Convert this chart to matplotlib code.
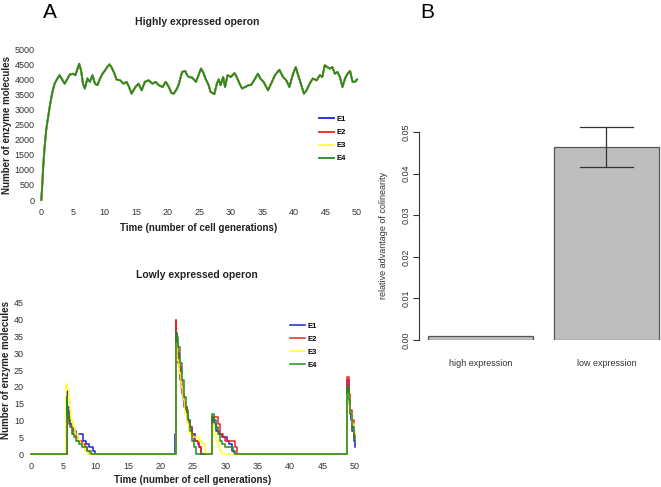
import matplotlib
matplotlib.use("Agg")
from matplotlib import pyplot as plt

plt.rcParams['font.family'] = ['Liberation Sans', 'DejaVu Sans']

W, H = 661, 487

# --- panel A, top: highly expressed operon (E1..E4 overlap almost exactly)
high_t = [0, 0.15, 0.3, 0.5, 0.8, 1.33, 1.7, 2.1, 2.55, 2.9, 3.3, 3.7, 4.0, 4.5, 5.05,
          5.4, 5.75, 6.0, 6.3, 6.6, 6.9, 7.3, 7.7, 8.1, 8.5, 8.9, 9.3, 9.7, 10.1, 10.5,
          10.8, 11.1, 11.6, 11.9, 12.5, 13.0, 13.5, 13.9, 14.3, 14.9, 15.4, 15.9, 16.4,
          17.0, 17.6, 18.1, 18.6, 19.2, 19.7, 20.2, 20.6, 21.0, 21.5, 21.8, 22.3, 22.8,
          23.1, 23.4, 23.9, 24.5, 24.9, 25.3, 25.6, 26.0, 26.5, 26.8, 27.4, 27.8, 28.1,
          28.4, 28.8, 29.1, 29.5, 30.0, 30.6, 30.9, 31.4, 31.8, 32.3, 32.8, 33.2, 33.7,
          34.3, 34.7, 35.2, 35.9, 36.4, 37.0, 37.7, 38.3, 38.8, 39.3, 39.8, 40.3, 40.6,
          41.1, 41.6, 42.0, 42.5, 43.0, 43.6, 44.1, 44.5, 44.9, 45.3, 45.7, 46.1, 46.5,
          46.9, 47.3, 47.7, 48.1, 48.5, 48.9, 49.3, 49.7, 50.0]
high_v = [0, 500, 1100, 1700, 2370, 3090, 3530, 3860, 4030, 4140, 4000, 3860, 3970, 4160, 4190,
          4140, 4360, 4520, 4300, 3860, 3700, 4030, 3920, 4140, 3860, 3810, 4030, 4190, 4300, 4430,
          4500, 4410, 4190, 4000, 3970, 3860, 3920, 3750, 3530, 3750, 3860, 3640, 3920,
          3970, 3860, 3920, 3810, 3750, 3920, 3750, 3550, 3530, 3700, 3860, 4250, 4280,
          4140, 4080, 4060, 3920, 4140, 4360, 4250, 4030, 3810, 3590, 3510, 3860, 4000,
          3810, 4080, 3750, 4140, 4080, 4210, 4100, 3860, 3700, 3750, 3810, 3810, 3970,
          4190, 4030, 3920, 3640, 3860, 4140, 4320, 4080, 3970, 3750, 4140, 4410, 4190,
          3860, 3530, 3640, 3860, 4030, 3970, 4140, 4080, 4470, 4410, 4360, 4410, 4190,
          4250, 4080, 3750, 4030, 4190, 4280, 3920, 3920, 4000]

# --- panel A, bottom: lowly expressed operon (step trajectories)
e1_t = [0, 5.5, 5.6, 5.8, 6.0, 6.3, 6.6, 7.0, 7.5, 8.0, 8.5, 9.0, 9.5, 9.9, 22.2, 22.35, 22.5,
        22.8, 23.1, 23.4, 23.7, 24.0, 24.3, 24.6, 24.9, 25.3, 25.7, 26.0, 26.3, 28.0, 28.3,
        28.6, 29.0, 29.4, 29.8, 30.2, 30.6, 31.0, 31.3, 48.8, 49.0, 49.2, 49.4, 49.6, 49.8, 50]
e1_v = [0, 19, 14, 11, 9, 8, 7, 6, 6, 4, 3, 2, 1, 0, 6, 36, 30, 26, 20, 16, 14, 12, 10, 8, 6,
        4, 3, 2, 0, 11, 9, 7, 6, 5, 5, 4, 3, 1, 0, 22, 15, 12, 10, 7, 4, 2]
e2_t = [0, 5.5, 5.7, 5.9, 6.2, 6.5, 6.9, 7.3, 7.8, 8.3, 8.7, 9.0, 22.3, 22.45, 22.7, 23.0,
        23.3, 23.6, 24.0, 24.4, 24.8, 25.2, 25.6, 26.0, 26.2, 28.0, 28.4, 28.8, 29.2, 29.6,
        30.0, 30.5, 31.0, 31.5, 31.8, 48.8, 49.0, 49.2, 49.5, 49.8, 50]
e2_v = [0, 13, 11, 9, 8, 6, 5, 4, 3, 2, 1, 0, 40, 33, 27, 22, 18, 14, 10, 8, 6, 4, 4, 2, 0,
        11, 11, 9, 6, 5, 4, 4, 4, 2, 0, 23, 18, 13, 10, 6, 5]
e3_t = [0, 5.4, 5.6, 5.8, 6.0, 6.2, 6.5, 6.8, 7.2, 7.6, 8.0, 8.4, 8.8, 22.3, 22.5, 22.8, 23.1,
        23.4, 23.7, 24.0, 24.4, 24.8, 25.2, 25.6, 26.0, 26.4, 26.8, 27.0, 28.0, 28.3, 28.6,
        28.9, 29.2, 29.5, 48.8, 49.0, 49.2, 49.5, 49.8, 50]
e3_v = [0, 21, 19, 16, 13, 10, 8, 6, 4, 3, 2, 1, 0, 33, 28, 24, 20, 16, 12, 9, 6, 5, 5, 5, 4,
        3, 1, 0, 9, 6, 4, 2, 1, 0, 18, 15, 12, 9, 7, 6]
e4_t = [0, 5.5, 5.6, 5.8, 6.0, 6.3, 6.6, 7.0, 7.4, 7.8, 8.2, 8.6, 9.0, 9.2, 22.3, 22.5, 22.7,
        23.0, 23.3, 23.6, 23.9, 24.2, 24.5, 24.8, 25.1, 25.5, 28.0, 28.2, 28.5, 28.8, 29.1,
        29.5, 29.9, 30.3, 30.7, 31.1, 31.5, 48.8, 49.0, 49.2, 49.5, 49.8, 50]
e4_v = [0, 17, 12, 10, 8, 6, 5, 4, 3, 2, 2, 1, 1, 0, 36, 35, 32, 27, 22, 17, 13, 10, 7, 4, 2,
        0, 12, 10, 8, 6, 4, 3, 2, 2, 2, 1, 0, 20, 16, 12, 8, 5, 4]

# --- panel B: bar chart
bar_labels = ["high expression", "low expression"]
bar_values = [0.001, 0.0465]
bar_err_lo = [None, 0.0417]
bar_err_hi = [None, 0.0513]

enzymes = ["E1", "E2", "E3", "E4"]
colors = ["#2222dd", "#ee2222", "#ffff33", "#228b22"]


def px_axes(x0, x1, ytop, ybot):
    return [x0 / W, 1 - ybot / H, (x1 - x0) / W, (ybot - ytop) / H]


fig = plt.figure(figsize=(W / 100, H / 100), dpi=100)

tick_kw = dict(labelsize=6.5, labelcolor="#333333", length=0)


def style_line_axes(ax):
    for s in ax.spines.values():
        s.set_visible(False)
    ax.tick_params(axis="x", pad=6, **tick_kw)
    ax.tick_params(axis="y", pad=5, **tick_kw)


# top panel
ax1 = fig.add_axes(px_axes(41.3, 357, 49.3, 200))
for name, c in zip(enzymes, colors):
    ax1.plot(high_t, high_v, color=c, lw=1.3, label=name, clip_on=False)
ax1.set_xlim(0, 50)
ax1.set_ylim(0, 5000)
ax1.set_xticks(range(0, 51, 5))
ax1.set_yticks(range(0, 5001, 500))
style_line_axes(ax1)
fig.text(197 / W, 1 - 22 / H, "Highly expressed operon", ha="center", va="center",
         fontsize=7.5, fontweight="bold", color="#222222")
fig.text(199 / W, 1 - 228 / H, "Time (number of cell generations)", ha="center", va="center",
         fontsize=7, fontweight="bold", color="#222222")
fig.text(7 / W, 1 - 125 / H, "Number of enzyme molecules", ha="center", va="center",
         rotation=90, fontsize=7, fontweight="bold", color="#222222")
ax1.legend(loc="upper left", bbox_to_anchor=(315 / W, 1 - 112 / H),
           bbox_transform=fig.transFigure, frameon=False,
           handlelength=2.0, handletextpad=0.3, labelspacing=0.75, borderpad=0,
           prop={"weight": "bold", "size": 5.5})

# bottom panel
ax2 = fig.add_axes(px_axes(31, 355, 303, 454))
for name, c, t, v in zip(enzymes, colors, [e1_t, e2_t, e3_t, e4_t], [e1_v, e2_v, e3_v, e4_v]):
    ax2.step(t, v, where="post", color=c, lw=1.1, label=name, clip_on=False)
ax2.set_xlim(0, 50)
ax2.set_ylim(0, 45)
ax2.set_xticks(range(0, 51, 5))
ax2.set_yticks(range(0, 46, 5))
style_line_axes(ax2)
fig.text(197 / W, 1 - 275 / H, "Lowly expressed operon", ha="center", va="center",
         fontsize=7.5, fontweight="bold", color="#222222")
fig.text(193 / W, 1 - 480 / H, "Time (number of cell generations)", ha="center", va="center",
         fontsize=7, fontweight="bold", color="#222222")
fig.text(6 / W, 1 - 370 / H, "Number of enzyme molecules", ha="center", va="center",
         rotation=90, fontsize=7, fontweight="bold", color="#222222")
ax2.legend(loc="upper left", bbox_to_anchor=(286 / W, 1 - 318.5 / H),
           bbox_transform=fig.transFigure, frameon=False,
           handlelength=2.0, handletextpad=0.3, labelspacing=0.75, borderpad=0,
           prop={"weight": "bold", "size": 5.5})

# panel B
ytop_b = 340 - 0.054 * 4160
ax3 = fig.add_axes(px_axes(419, 661, ytop_b, 340))
pos = [0.7, 1.9]
ax3.bar(pos, bar_values, width=1.0, color="#bebebe", edgecolor="#555555", linewidth=0.9)
for x, lo, hi in zip(pos, bar_err_lo, bar_err_hi):
    if lo is None:
        continue
    ax3.plot([x, x], [lo, hi], color="#333333", lw=0.9)
    ax3.plot([x - 0.25, x + 0.25], [lo, lo], color="#333333", lw=0.9)
    ax3.plot([x - 0.25, x + 0.25], [hi, hi], color="#333333", lw=0.9)
ax3.set_xlim(0.114, 2.42)
ax3.set_ylim(0, 0.054)
for s in ["top", "right", "bottom"]:
    ax3.spines[s].set_visible(False)
ax3.spines["left"].set_bounds(0, 0.05)
ax3.spines["left"].set_color("#333333")
ax3.spines["left"].set_linewidth(0.8)
ax3.set_yticks([0, 0.01, 0.02, 0.03, 0.04, 0.05])
ax3.set_yticklabels(["0.00", "0.01", "0.02", "0.03", "0.04", "0.05"], rotation=90, va="center")
ax3.tick_params(axis="y", length=4, width=0.8, color="#333333", labelsize=6.5,
                labelcolor="#333333", pad=2)
ax3.set_xticks(pos)
ax3.set_xticklabels(bar_labels)
ax3.tick_params(axis="x", length=0, labelsize=6.5, labelcolor="#333333", pad=14)
fig.text(383 / W, 1 - 235 / H, "relative advantage of colinearity", ha="center", va="center",
         rotation=90, fontsize=6.5, color="#333333")

fig.text(50 / W, 1 - 13 / H, "A", ha="center", va="center", fontsize=15)
fig.text(427 / W, 1 - 12 / H, "B", ha="center", va="center", fontsize=15)

fig.savefig("out.png", dpi=100)
